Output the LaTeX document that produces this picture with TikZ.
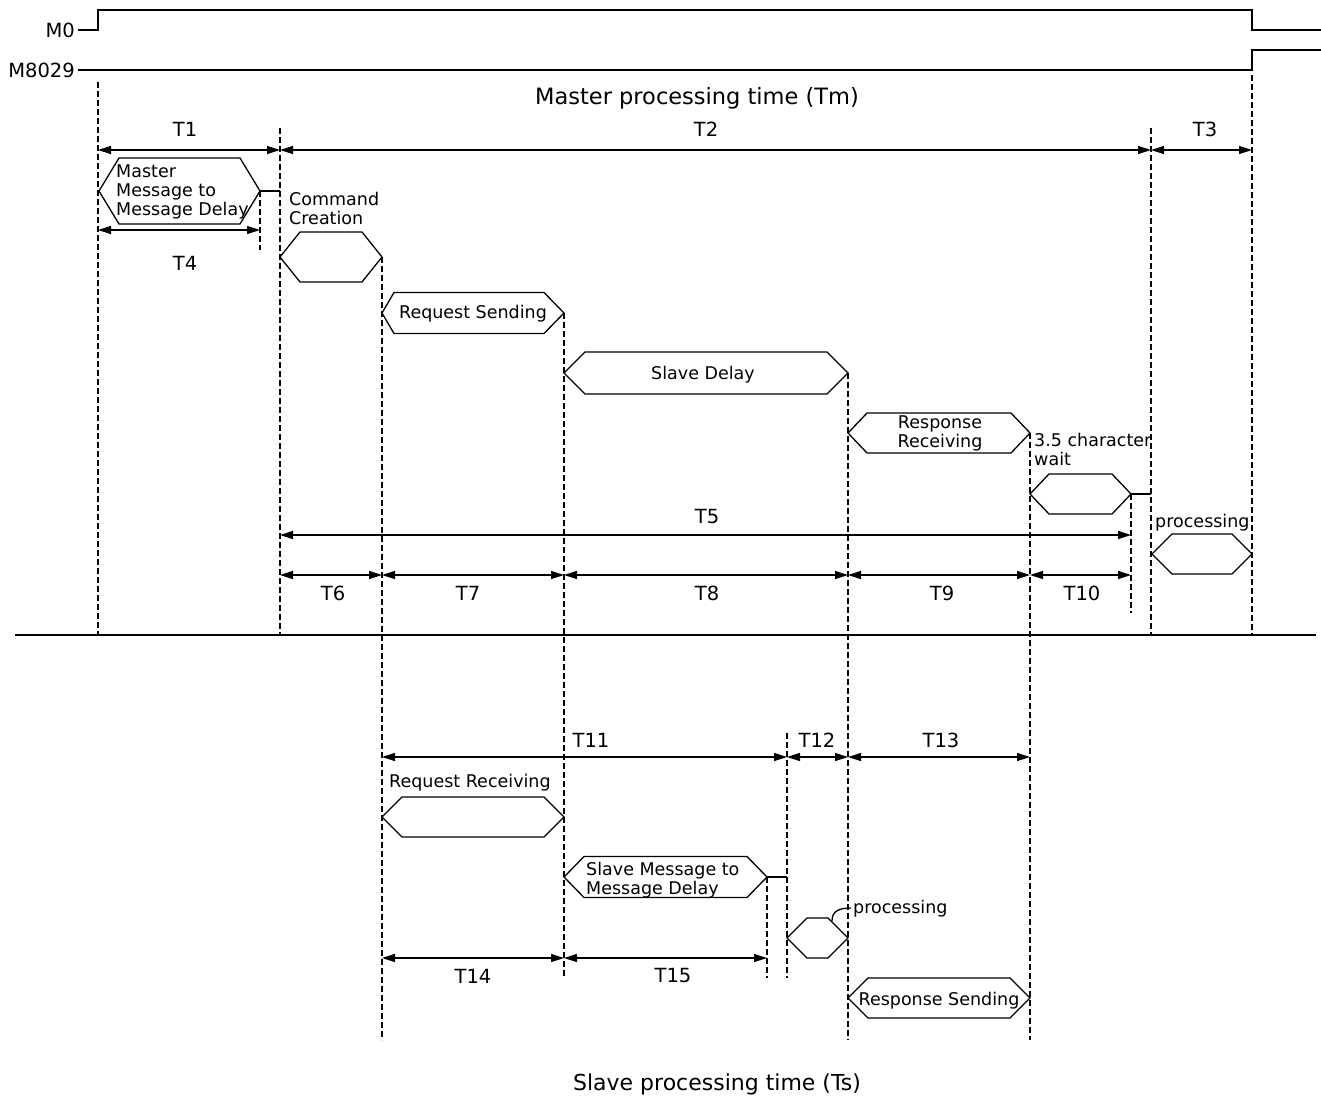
\documentclass[tikz,border=0pt]{standalone}
\usepackage{fontspec}
\setmainfont{DejaVu Sans}
\usetikzlibrary{arrows.meta}
\newcommand\fsA{\fontsize{17.5}{19}\selectfont}
\newcommand\fsT{\fontsize{19.5}{21}\selectfont}
\newcommand\fsH{\fontsize{22.5}{24}\selectfont}
\newcommand\fsS{\fontsize{22}{24}\selectfont}
\newcommand\hexag[7]{%
  \draw[hexline] (#2,#4) -- ({#2+#6},{#4-#5}) -- ({#3-#7},{#4-#5}) -- (#3,#4)
    -- ({#3-#7},{#4+#5}) -- ({#2+#6},{#4+#5}) -- cycle;
  \coordinate (#1-w) at (#2,#4);
  \coordinate (#1-e) at (#3,#4);
}
\tikzset{
  sig/.style={line width=1.5pt},
  hexline/.style={line width=1.3pt, line join=miter},
  guide/.style={line width=1.3pt, dash pattern=on 6pt off 3pt},
  dim/.style={line width=1.3pt, {Triangle[length=13pt,width=8pt]}-{Triangle[length=13pt,width=8pt]}},
  lbl/.style={font=\fsA, inner sep=0pt},
  tl/.style={font=\fsT, inner sep=0pt},
  conn/.style={line width=1.3pt}
}
\begin{document}
\begin{tikzpicture}[x=1pt,y=-1pt]
\useasboundingbox (0,0) rectangle (1321,1097);
% signals
\node[tl, anchor=east] (m0) at (75,30) {M0};
\node[tl, anchor=east] (m8029) at (75,70) {M8029};
\draw[sig] (m0.east) ++(3,0) -- (98,30) -- (98,10) -- (1252,10) -- (1252,30) -- (1321,30);
\draw[sig] (m8029.east) ++(3,0) -- (1252,70) -- (1252,50) -- (1321,50);
\node[font=\fsH, inner sep=0pt, anchor=base] (tm) at (697,105) {Master processing time (Tm)};
% guide lines
\draw[guide] (98,82) -- (98,635);
\draw[guide] (280,128) -- (280,635);
\draw[guide] (260,191) -- (260,250);
\draw[guide] (382,257) -- (382,1040);
\draw[guide] (564,313) -- (564,978);
\draw[guide] (848,373) -- (848,1040);
\draw[guide] (1030,433) -- (1030,1040);
\draw[guide] (1131,494) -- (1131,613);
\draw[guide] (1151,128) -- (1151,635);
\draw[guide] (1252,75) -- (1252,635);
\draw[guide] (767,877) -- (767,978);
\draw[guide] (787,733) -- (787,978);
% separator
\draw[line width=1.3pt] (15,635) -- (1316,635);
% hexagons
\hexag{mmd}{99}{260}{191}{33}{20}{20}
\hexag{cc}{280}{382}{257}{25}{20}{20}
\hexag{rs}{382}{564}{313}{20.5}{12}{20}
\hexag{sd}{564}{848}{373}{21}{21}{21}
\hexag{rr}{848}{1030}{433}{20}{19}{19}
\hexag{cw}{1030}{1131}{494}{20}{19}{19}
\hexag{pm}{1152}{1252}{554}{20}{20}{20}
\hexag{rq}{382}{564}{817}{20}{20}{20}
\hexag{smd}{564}{767}{877}{20.5}{20}{20}
\hexag{ps}{787}{848}{938}{20}{20}{20}
\hexag{rsd}{848}{1030}{998}{20}{20}{20}
% connectors
\coordinate (t2s) at (280,191);
\coordinate (t5e) at (1151,494);
\coordinate (t12s) at (787,877);
\draw[conn] (mmd-e) -- (t2s);
\draw[conn] (cw-e) -- (t5e);
\draw[conn] (smd-e) -- (t12s);
% hexagon texts
\node[lbl, anchor=north west, align=left] (mmdt) at (116,165) {Master\\Message to\\Message Delay};
\node[lbl, anchor=north west, align=left] (cct) at (289,192) {Command\\Creation};
\node[lbl, anchor=base] (rst) at (473,318) {Request Sending};
\node[lbl, anchor=base] (sdt) at (703,379.5) {Slave Delay};
\node[lbl, anchor=north, align=center] (rrt) at (940,416) {Response\\Receiving};
\node[lbl, anchor=north west, align=left] (cwt) at (1034,433) {3.5 character\\wait};
\node[lbl, anchor=base west] (pmt) at (1155,527) {processing};
\node[lbl, anchor=base west] (rqt) at (389,787) {Request Receiving};
\node[lbl, anchor=north west, align=left] (smdt) at (586,862) {Slave Message to\\Message Delay};
\node[lbl, anchor=base west] (pst) at (853,913) {processing};
\node[lbl, anchor=base] (rsdt) at (939,1005) {Response Sending};
\draw[conn] (832,921) .. controls (832,911) and (839,908) .. (851,908);
% dimension arrows
\draw[dim] (98,150) -- (280,150);
\draw[dim] (280,150) -- (1151,150);
\draw[dim] (1151,150) -- (1252,150);
\draw[dim] (98,230) -- (260,230);
\draw[dim] (280,535) -- (1131,535);
\draw[dim] (280,575) -- (382,575);
\draw[dim] (382,575) -- (564,575);
\draw[dim] (564,575) -- (848,575);
\draw[dim] (848,575) -- (1030,575);
\draw[dim] (1030,575) -- (1131,575);
\draw[dim] (382,757) -- (787,757);
\draw[dim] (787,757) -- (848,757);
\draw[dim] (848,757) -- (1030,757);
\draw[dim] (382,958) -- (564,958);
\draw[dim] (564,958) -- (767,958);
% dimension labels
\node[tl] (T1) at (185,129) {T1};
\node[tl] (T2) at (706,129) {T2};
\node[tl] (T3) at (1205,129) {T3};
\node[tl] (T4) at (185,263) {T4};
\node[tl] (T5) at (707,517) {T5};
\node[tl] (T6) at (333,593) {T6};
\node[tl] (T7) at (468,593) {T7};
\node[tl] (T8) at (707,593) {T8};
\node[tl] (T9) at (942,593) {T9};
\node[tl] (T10) at (1082,593) {T10};
\node[tl] (T11) at (591,740) {T11};
\node[tl] (T12) at (817,740) {T12};
\node[tl] (T13) at (941,740) {T13};
\node[tl] (T14) at (473,976) {T14};
\node[tl] (T15) at (673,976) {T15};
\node[font=\fsS, inner sep=0pt, anchor=base] (ts) at (717,1090) {Slave processing time (Ts)};
\end{tikzpicture}
\end{document}
